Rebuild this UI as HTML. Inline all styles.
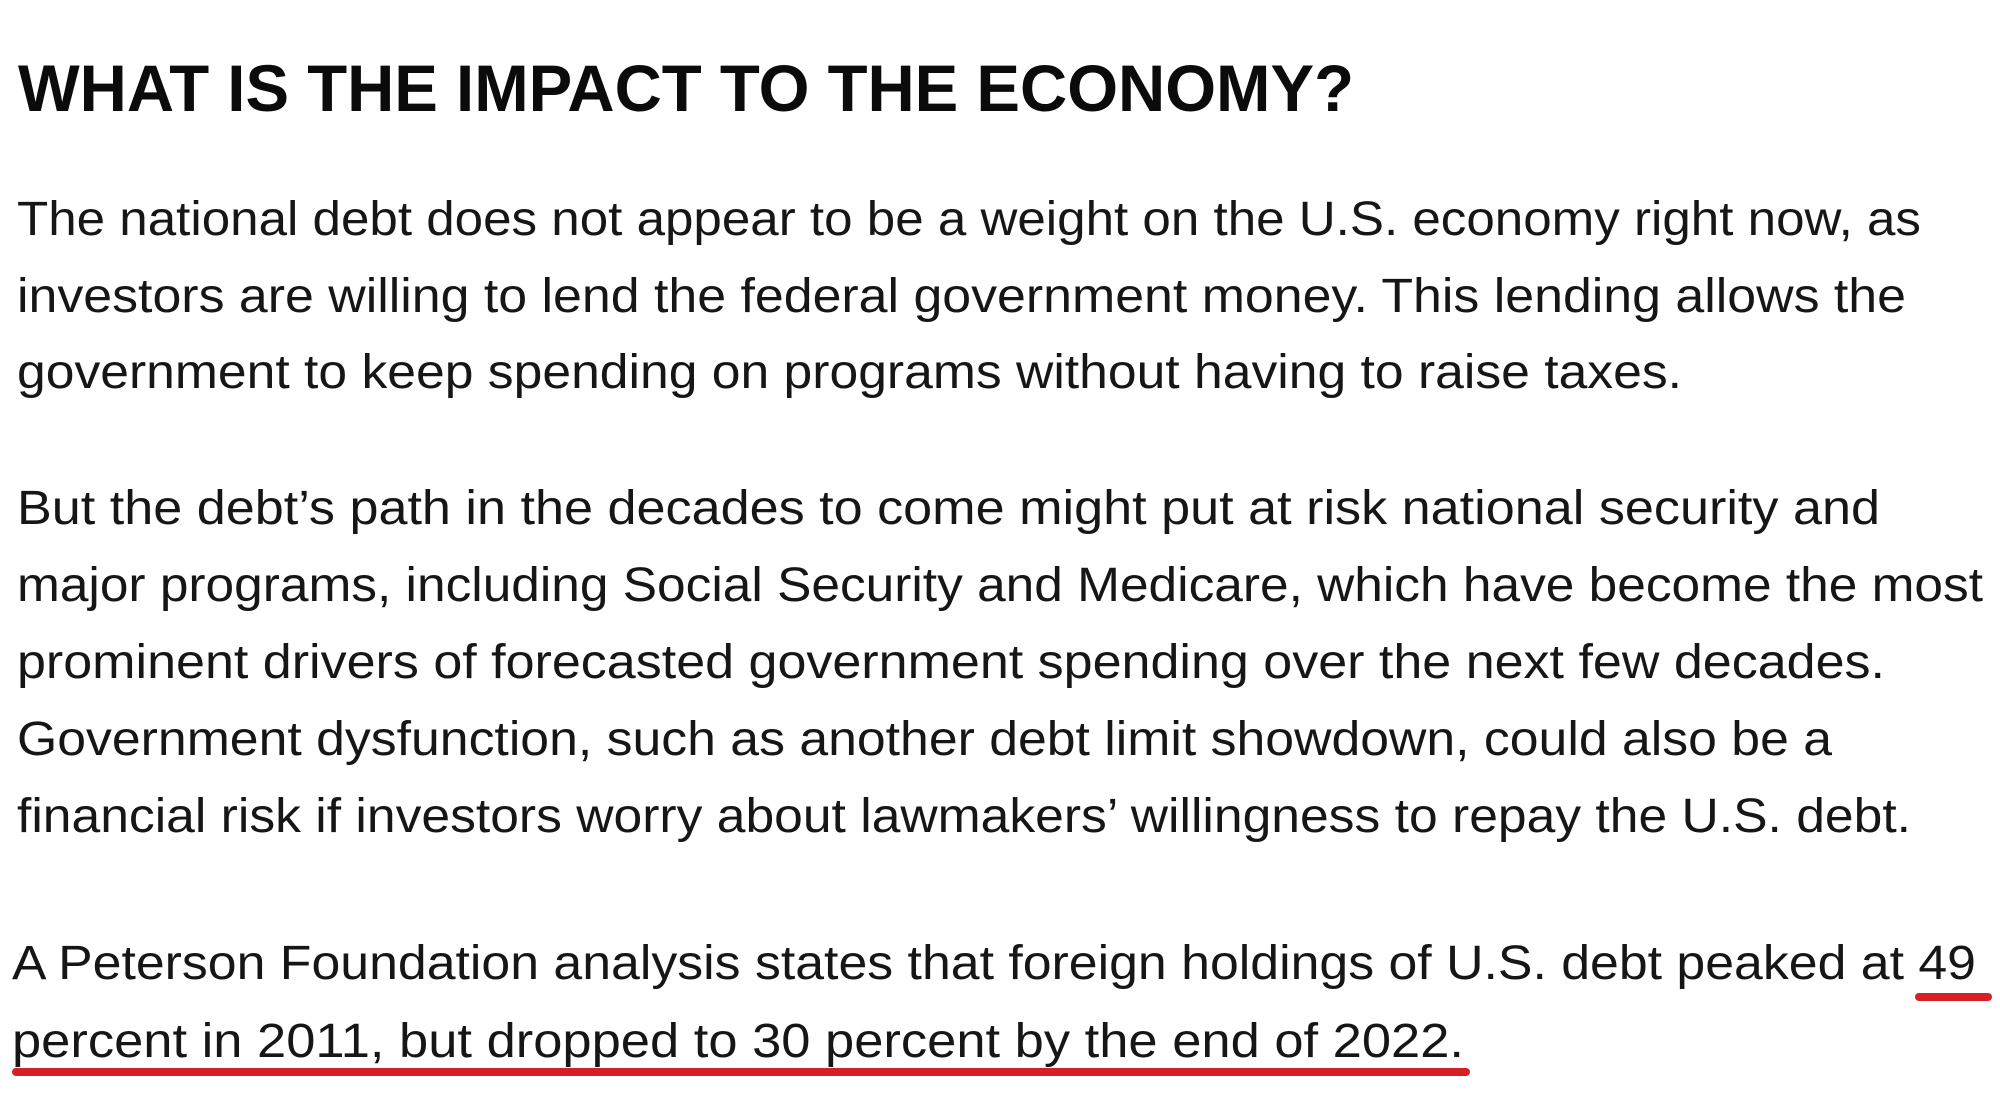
<!DOCTYPE html>
<html>
<head>
<meta charset="utf-8">
<style>
  html, body { margin:0; padding:0; background:#ffffff; width:2000px; height:1097px; overflow:hidden; }
  svg { display:block; }
  .h { font-family:"Liberation Sans", sans-serif; font-weight:bold; font-size:66px; fill:#0b0b0b; }
  .b { font-family:"Liberation Sans", sans-serif; font-size:48px; fill:#161616; }
</style>
</head>
<body>
<svg width="2000" height="1097" viewBox="0 0 2000 1097" xmlns="http://www.w3.org/2000/svg">
  <rect x="0" y="0" width="2000" height="1097" fill="#ffffff"/>

  <text class="h" x="18" y="111" textLength="1336" lengthAdjust="spacingAndGlyphs">WHAT IS THE IMPACT TO THE ECONOMY?</text>

  <text class="b" x="17" y="235" textLength="1904" lengthAdjust="spacingAndGlyphs">The national debt does not appear to be a weight on the U.S. economy right now, as</text>
  <text class="b" x="17" y="312" textLength="1889" lengthAdjust="spacingAndGlyphs">investors are willing to lend the federal government money. This lending allows the</text>
  <text class="b" x="17" y="388" textLength="1665" lengthAdjust="spacingAndGlyphs">government to keep spending on programs without having to raise taxes.</text>

  <text class="b" x="17" y="524" textLength="1863" lengthAdjust="spacingAndGlyphs">But the debt’s path in the decades to come might put at risk national security and</text>
  <text class="b" x="17" y="601" textLength="1966" lengthAdjust="spacingAndGlyphs">major programs, including Social Security and Medicare, which have become the most</text>
  <text class="b" x="17" y="678" textLength="1868" lengthAdjust="spacingAndGlyphs">prominent drivers of forecasted government spending over the next few decades.</text>
  <text class="b" x="17" y="755" textLength="1815" lengthAdjust="spacingAndGlyphs">Government dysfunction, such as another debt limit showdown, could also be a</text>
  <text class="b" x="17" y="832" textLength="1894" lengthAdjust="spacingAndGlyphs">financial risk if investors worry about lawmakers’ willingness to repay the U.S. debt.</text>

  <text class="b" x="12" y="979" textLength="1964" lengthAdjust="spacingAndGlyphs">A Peterson Foundation analysis states that foreign holdings of U.S. debt peaked at 49</text>
  <text class="b" x="12" y="1057" textLength="1452" lengthAdjust="spacingAndGlyphs">percent in 2011, but dropped to 30 percent by the end of 2022.</text>

  <rect x="1915" y="993" width="77" height="8" rx="4" fill="#d71f27"/>
  <rect x="12" y="1068" width="1458" height="8" rx="4" fill="#d71f27"/>
</svg>
</body>
</html>
